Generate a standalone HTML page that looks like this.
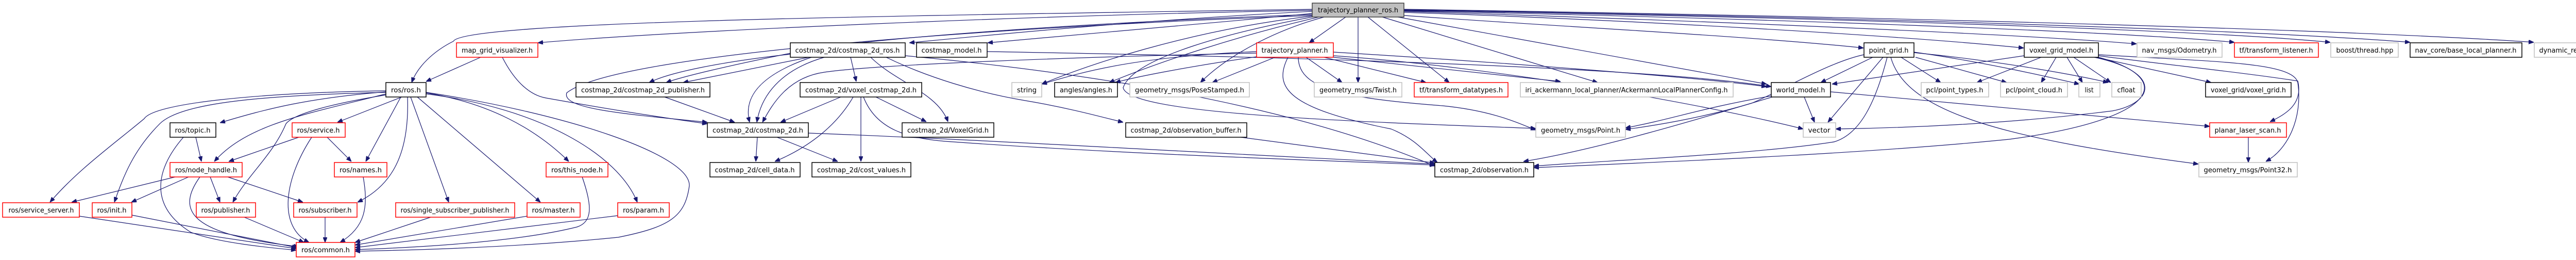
<!DOCTYPE html>
<html><head><meta charset="utf-8"><style>
html,body{margin:0;padding:0;background:#fff;}
svg{display:block;}
text{font-family:"DejaVu Sans","Liberation Sans",sans-serif;font-size:13px;fill:#000;}
.b{fill:#fff;stroke:#000;stroke-width:1.5}
.r{fill:#fff;stroke:#ff0000;stroke-width:1.5}
.g{fill:#fff;stroke:#bfbfbf;stroke-width:1.5}
.e path{fill:none;stroke:#191970;stroke-width:1.2;marker-end:url(#a)}
</style></head><body>
<svg width="5135" height="504" viewBox="0 0 5135 504" xmlns="http://www.w3.org/2000/svg">
<defs><marker id="a" viewBox="0 0 10 8" refX="10" refY="4" markerWidth="10" markerHeight="8" markerUnits="userSpaceOnUse" orient="auto"><path d="M0,0 L10,4 L0,8 z" fill="#191970" stroke="#191970"/></marker></defs>
<g class="e">
<!-- from trajectory_planner_ros.h -->
<path d="M2547,18 C1800,30 900,40 880,80 C840,100 810,130 799,160"/>
<path d="M2547,20 C2000,30 1300,60 1044,83"/>
<path d="M2547,22 C2200,40 1900,70 1765,83"/>
<path d="M2547,26 C2300,50 2000,75 1917,83"/>
<path d="M2547,28 C2200,40 1700,70 1550,100 C1400,130 1320,150 1293,160"/>
<path d="M2547,30 C2000,50 1200,100 1100,180 C1090,210 1200,220 1373,237"/>
<path d="M2547,31 C2300,60 2100,130 2022,163"/>
<path d="M2560,33 C2400,70 2250,120 2153,160"/>
<path d="M2570,33 C2470,60 2380,110 2330,160"/>
<path d="M2612,33 L2541,83"/>
<path d="M2636,33 L2636,160"/>
<path d="M2655,33 L2813,160"/>
<path d="M2683,33 L3101,160"/>
<path d="M2713,33 L3429,163"/>
<path d="M2547,33 C2400,60 2200,110 2180,170 C2190,220 2600,235 2981,249"/>
<path d="M2725,30 C3000,50 3400,70 3617,93"/>
<path d="M2725,24 C3200,40 3700,70 3928,93"/>
<path d="M2725,22 C3300,40 3900,65 4147,85"/>
<path d="M2725,21 C3400,35 4100,60 4337,82"/>
<path d="M2725,20 C3600,35 4300,60 4523,82"/>
<path d="M2725,19 C3700,35 4400,60 4678,82"/>
<path d="M2725,18 C3800,35 4600,60 4918,82"/>
<!-- trajectory_planner.h -->
<path d="M2439,100 C2200,110 2100,140 2022,163"/>
<path d="M2439,110 C2300,130 2200,150 2165,160"/>
<path d="M2475,111 L2353,160"/>
<path d="M2535,111 L2605,160"/>
<path d="M2570,111 L2768,160"/>
<path d="M2588,111 L3029,158"/>
<path d="M2588,101 C2900,120 3300,150 3429,168"/>
<path d="M2439,103 C2100,110 1700,125 1600,140 C1530,150 1500,200 1480,237"/>
<path d="M2520,111 C2520,170 2600,190 2800,205 C2900,215 2950,240 2981,252"/>
<path d="M2500,111 C2470,170 2500,210 2700,250 C2750,270 2770,300 2790,315"/>
<path d="M2588,108 C2900,130 3300,200 3500,250"/>
<!-- costmap_model.h -->
<path d="M1916,100 C2500,110 3200,130 3438,168"/>
<!-- map_grid_visualizer.h -->
<path d="M933,111 L827,158"/>
<path d="M975,111 C1000,160 1030,185 1060,190 C1200,215 1300,230 1373,240"/>
<!-- costmap_2d_ros.h -->
<path d="M1570,111 L1326,160"/>
<path d="M1575,111 C1490,140 1440,180 1455,237"/>
<path d="M1600,111 C1500,140 1475,200 1469,237"/>
<path d="M1651,111 L1662,158"/>
<path d="M1690,111 C1740,160 1820,180 1840,236"/>
<path d="M1720,111 C1800,150 1900,180 1990,195 C2080,210 2150,230 2180,237"/>
<path d="M1757,108 C2100,140 2500,200 2785,322"/>
<path d="M1534,105 C1400,120 1300,140 1260,160"/>
<!-- costmap_2d_publisher.h -->
<path d="M1290,188 L1426,237"/>
<!-- voxel_costmap_2d.h -->
<path d="M1632,188 L1515,237"/>
<path d="M1656,188 C1620,250 1560,290 1504,313"/>
<path d="M1671,188 L1671,313"/>
<path d="M1700,188 L1798,236"/>
<path d="M1676,188 C1700,250 1760,270 1850,275 C2200,300 2600,312 2785,320"/>
<!-- costmap_2d.h -->
<path d="M1470,266 L1467,313"/>
<path d="M1508,266 L1626,313"/>
<path d="M1569,258 C1900,270 2400,300 2785,318"/>
<!-- observation_buffer.h -->
<path d="M2408,266 L2785,316"/>
<!-- world_model.h -->
<path d="M3438,186 C3300,210 3250,230 3155,248"/>
<path d="M3440,188 C3300,230 3100,290 2957,313"/>
<path d="M3502,188 L3522,237"/>
<path d="M3553,178 L4289,245"/>
<!-- point_grid.h -->
<path d="M3635,111 L3534,160"/>
<path d="M3655,111 L3548,237"/>
<path d="M3690,111 L3767,160"/>
<path d="M3718,111 L3895,160"/>
<path d="M3715,101 C3850,120 3980,150 4036,163"/>
<path d="M3715,102 C3900,120 4050,150 4092,160"/>
<path d="M3670,111 C3700,220 3900,270 4267,318"/>
<path d="M3618,106 C3550,120 3450,180 3400,200 C3300,230 3200,245 3155,251"/>
<path d="M3663,111 C3640,200 3610,260 3560,275 C3400,300 3100,312 2977,322"/>
<!-- voxel_grid_model.h -->
<path d="M3929,108 L3556,163"/>
<path d="M3962,111 L3837,160"/>
<path d="M3991,111 L3962,160"/>
<path d="M4012,111 L4042,160"/>
<path d="M4025,111 L4097,160"/>
<path d="M4068,111 L4292,160"/>
<path d="M4065,111 C4200,140 4180,200 4100,215 C3900,240 3700,248 3563,250"/>
<path d="M4073,111 C4220,150 4200,230 3900,270 C3600,300 3200,315 2977,325"/>
<path d="M4073,106 C4300,120 4450,120 4460,160 C4470,230 4440,290 4398,313"/>
<path d="M4073,108 C4200,125 4350,140 4460,157 C4470,200 4440,220 4406,236"/>
<!-- planar_laser_scan.h -->
<path d="M4364,266 L4364,315"/>
<!-- ros/ros.h -->
<path d="M749,178 C600,190 520,210 427,238"/>
<path d="M780,188 L655,237"/>
<path d="M749,182 C600,220 480,240 416,313"/>
<path d="M778,188 L710,313"/>
<path d="M749,176 C500,180 300,200 280,230 C220,280 150,330 97,392"/>
<path d="M749,179 C500,185 350,200 310,240 C260,290 240,340 222,392"/>
<path d="M749,184 C650,200 570,220 555,240 C530,300 480,340 452,392"/>
<path d="M791,188 C795,300 760,360 694,392"/>
<path d="M797,188 L871,392"/>
<path d="M827,180 C950,200 1040,250 1104,313"/>
<path d="M810,188 L1049,392"/>
<path d="M827,182 C1050,210 1200,300 1237,392"/>
<path d="M827,179 C1100,220 1340,300 1338,360 C1330,420 1300,440 1200,460 C1000,480 800,485 689,487"/>
<!-- topic / service -->
<path d="M380,266 L391,313"/>
<path d="M356,266 C300,330 290,400 370,450 C420,470 520,480 575,485"/>
<path d="M580,266 L444,313"/>
<path d="M635,266 L682,313"/>
<path d="M605,266 C550,350 540,440 600,470"/>
<!-- node_handle -->
<path d="M340,343 L139,392"/>
<path d="M366,343 L255,392"/>
<path d="M408,343 L427,392"/>
<path d="M442,343 L588,392"/>
<path d="M388,343 C340,410 370,455 580,478"/>
<!-- names -->
<path d="M705,343 C715,400 710,440 660,470"/>
<!-- row5 to common -->
<path d="M154,419 L575,482"/>
<path d="M256,417 L577,480"/>
<path d="M474,421 L590,470"/>
<path d="M631,421 L631,470"/>
<path d="M836,421 L689,470"/>
<path d="M1023,419 L689,475"/>
<path d="M1199,418 L689,480"/>
<path d="M1130,343 C1150,400 1150,430 1120,440 C1000,470 800,480 689,484"/>
</g>
<!-- nodes -->
<g>
<rect x="2547" y="6" width="178" height="27" fill="#bfbfbf" stroke="#404040" stroke-width="1.5"/>
<text x="2636" y="24" text-anchor="middle" textLength="156" lengthAdjust="spacingAndGlyphs">trajectory_planner_ros.h</text>

<rect class="r" x="886" y="83" width="158" height="28"/><text x="965" y="102" text-anchor="middle" textLength="138" lengthAdjust="spacingAndGlyphs">map_grid_visualizer.h</text>
<rect class="b" x="1534" y="83" width="223" height="28"/><text x="1645" y="102" text-anchor="middle" textLength="203" lengthAdjust="spacingAndGlyphs">costmap_2d/costmap_2d_ros.h</text>
<rect class="b" x="1779" y="83" width="137" height="28"/><text x="1847" y="102" text-anchor="middle" textLength="117" lengthAdjust="spacingAndGlyphs">costmap_model.h</text>
<rect class="r" x="2439" y="83" width="149" height="28"/><text x="2513" y="102" text-anchor="middle" textLength="129" lengthAdjust="spacingAndGlyphs">trajectory_planner.h</text>
<rect class="b" x="3618" y="83" width="97" height="28"/><text x="3666" y="102" text-anchor="middle" textLength="77" lengthAdjust="spacingAndGlyphs">point_grid.h</text>
<rect class="b" x="3929" y="83" width="144" height="28"/><text x="4001" y="102" text-anchor="middle" textLength="124" lengthAdjust="spacingAndGlyphs">voxel_grid_model.h</text>
<rect class="g" x="4148" y="83" width="165" height="28"/><text x="4230" y="102" text-anchor="middle" textLength="145" lengthAdjust="spacingAndGlyphs">nav_msgs/Odometry.h</text>
<rect class="r" x="4337" y="83" width="163" height="28"/><text x="4418" y="102" text-anchor="middle" textLength="143" lengthAdjust="spacingAndGlyphs">tf/transform_listener.h</text>
<rect class="g" x="4524" y="83" width="131" height="28"/><text x="4590" y="102" text-anchor="middle" textLength="111" lengthAdjust="spacingAndGlyphs">boost/thread.hpp</text>
<rect class="b" x="4678" y="83" width="217" height="28"/><text x="4786" y="102" text-anchor="middle" textLength="197" lengthAdjust="spacingAndGlyphs">nav_core/base_local_planner.h</text>
<rect class="g" x="4919" y="83" width="211" height="28"/><text x="5024" y="102" text-anchor="middle" textLength="191" lengthAdjust="spacingAndGlyphs">dynamic_reconfigure/server.h</text>

<rect class="b" x="749" y="160" width="78" height="28"/><text x="788" y="179" text-anchor="middle" textLength="58" lengthAdjust="spacingAndGlyphs">ros/ros.h</text>
<rect class="b" x="1118" y="160" width="260" height="28"/><text x="1248" y="179" text-anchor="middle" textLength="240" lengthAdjust="spacingAndGlyphs">costmap_2d/costmap_2d_publisher.h</text>
<rect class="b" x="1553" y="160" width="236" height="28"/><text x="1671" y="179" text-anchor="middle" textLength="216" lengthAdjust="spacingAndGlyphs">costmap_2d/voxel_costmap_2d.h</text>
<rect class="g" x="1964" y="160" width="58" height="28"/><text x="1993" y="179" text-anchor="middle" textLength="38" lengthAdjust="spacingAndGlyphs">string</text>
<rect class="b" x="2047" y="160" width="122" height="28"/><text x="2108" y="179" text-anchor="middle" textLength="102" lengthAdjust="spacingAndGlyphs">angles/angles.h</text>
<rect class="g" x="2193" y="160" width="232" height="28"/><text x="2309" y="179" text-anchor="middle" textLength="212" lengthAdjust="spacingAndGlyphs">geometry_msgs/PoseStamped.h</text>
<rect class="g" x="2551" y="160" width="170" height="28"/><text x="2636" y="179" text-anchor="middle" textLength="150" lengthAdjust="spacingAndGlyphs">geometry_msgs/Twist.h</text>
<rect class="r" x="2745" y="160" width="182" height="28"/><text x="2836" y="179" text-anchor="middle" textLength="162" lengthAdjust="spacingAndGlyphs">tf/transform_datatypes.h</text>
<rect class="g" x="2951" y="160" width="413" height="28"/><text x="3157" y="179" text-anchor="middle" textLength="393" lengthAdjust="spacingAndGlyphs">iri_ackermann_local_planner/AckermannLocalPlannerConfig.h</text>
<rect class="b" x="3438" y="160" width="115" height="28"/><text x="3495" y="179" text-anchor="middle" textLength="95" lengthAdjust="spacingAndGlyphs">world_model.h</text>
<rect class="g" x="3729" y="160" width="131" height="28"/><text x="3794" y="179" text-anchor="middle" textLength="111" lengthAdjust="spacingAndGlyphs">pcl/point_types.h</text>
<rect class="g" x="3883" y="160" width="130" height="28"/><text x="3948" y="179" text-anchor="middle" textLength="110" lengthAdjust="spacingAndGlyphs">pcl/point_cloud.h</text>
<rect class="g" x="4035" y="160" width="41" height="28"/><text x="4055" y="179" text-anchor="middle" textLength="17" lengthAdjust="spacingAndGlyphs">list</text>
<rect class="g" x="4099" y="160" width="57" height="28"/><text x="4127" y="179" text-anchor="middle" textLength="35" lengthAdjust="spacingAndGlyphs">cfloat</text>
<rect class="b" x="4281" y="160" width="166" height="28"/><text x="4364" y="179" text-anchor="middle" textLength="146" lengthAdjust="spacingAndGlyphs">voxel_grid/voxel_grid.h</text>

<rect class="b" x="330" y="238" width="89" height="28" stroke="#404040"/><text x="374" y="257" text-anchor="middle" textLength="69" lengthAdjust="spacingAndGlyphs">ros/topic.h</text>
<rect class="r" x="567" y="238" width="103" height="28"/><text x="618" y="257" text-anchor="middle" textLength="83" lengthAdjust="spacingAndGlyphs">ros/service.h</text>
<rect class="b" x="1373" y="238" width="196" height="28"/><text x="1471" y="257" text-anchor="middle" textLength="176" lengthAdjust="spacingAndGlyphs">costmap_2d/costmap_2d.h</text>
<rect class="b" x="1751" y="238" width="178" height="28"/><text x="1840" y="257" text-anchor="middle" textLength="158" lengthAdjust="spacingAndGlyphs">costmap_2d/VoxelGrid.h</text>
<rect class="b" x="2185" y="238" width="235" height="28"/><text x="2302" y="257" text-anchor="middle" textLength="215" lengthAdjust="spacingAndGlyphs">costmap_2d/observation_buffer.h</text>
<rect class="g" x="2981" y="238" width="174" height="28"/><text x="3068" y="257" text-anchor="middle" textLength="154" lengthAdjust="spacingAndGlyphs">geometry_msgs/Point.h</text>
<rect class="g" x="3500" y="238" width="63" height="28"/><text x="3531" y="257" text-anchor="middle" textLength="43" lengthAdjust="spacingAndGlyphs">vector</text>
<rect class="r" x="4289" y="238" width="149" height="28"/><text x="4363" y="257" text-anchor="middle" textLength="129" lengthAdjust="spacingAndGlyphs">planar_laser_scan.h</text>

<rect class="r" x="330" y="315" width="140" height="28"/><text x="400" y="334" text-anchor="middle" textLength="120" lengthAdjust="spacingAndGlyphs">ros/node_handle.h</text>
<rect class="r" x="649" y="315" width="102" height="28"/><text x="700" y="334" text-anchor="middle" textLength="82" lengthAdjust="spacingAndGlyphs">ros/names.h</text>
<rect class="r" x="1060" y="315" width="120" height="28"/><text x="1120" y="334" text-anchor="middle" textLength="100" lengthAdjust="spacingAndGlyphs">ros/this_node.h</text>
<rect class="b" x="1378" y="315" width="175" height="28"/><text x="1465" y="334" text-anchor="middle" textLength="155" lengthAdjust="spacingAndGlyphs">costmap_2d/cell_data.h</text>
<rect class="b" x="1576" y="315" width="192" height="28"/><text x="1672" y="334" text-anchor="middle" textLength="172" lengthAdjust="spacingAndGlyphs">costmap_2d/cost_values.h</text>
<rect class="b" x="2785" y="315" width="192" height="28"/><text x="2881" y="334" text-anchor="middle" textLength="172" lengthAdjust="spacingAndGlyphs">costmap_2d/observation.h</text>
<rect class="g" x="4268" y="315" width="191" height="28"/><text x="4363" y="334" text-anchor="middle" textLength="171" lengthAdjust="spacingAndGlyphs">geometry_msgs/Point32.h</text>

<rect class="r" x="5" y="393" width="149" height="28"/><text x="80" y="412" text-anchor="middle" textLength="127" lengthAdjust="spacingAndGlyphs">ros/service_server.h</text>
<rect class="r" x="179" y="393" width="77" height="28"/><text x="217" y="412" text-anchor="middle" textLength="57" lengthAdjust="spacingAndGlyphs">ros/init.h</text>
<rect class="r" x="381" y="393" width="115" height="28"/><text x="438" y="412" text-anchor="middle" textLength="95" lengthAdjust="spacingAndGlyphs">ros/publisher.h</text>
<rect class="r" x="570" y="393" width="123" height="28"/><text x="631" y="412" text-anchor="middle" textLength="103" lengthAdjust="spacingAndGlyphs">ros/subscriber.h</text>
<rect class="r" x="768" y="393" width="231" height="28"/><text x="883" y="412" text-anchor="middle" textLength="211" lengthAdjust="spacingAndGlyphs">ros/single_subscriber_publisher.h</text>
<rect class="r" x="1023" y="393" width="103" height="28"/><text x="1074" y="412" text-anchor="middle" textLength="83" lengthAdjust="spacingAndGlyphs">ros/master.h</text>
<rect class="r" x="1199" y="393" width="100" height="28"/><text x="1249" y="412" text-anchor="middle" textLength="80" lengthAdjust="spacingAndGlyphs">ros/param.h</text>

<rect class="r" x="575" y="470" width="114" height="28"/><text x="632" y="489" text-anchor="middle" textLength="94" lengthAdjust="spacingAndGlyphs">ros/common.h</text>
</g>
</svg>
</body></html>
